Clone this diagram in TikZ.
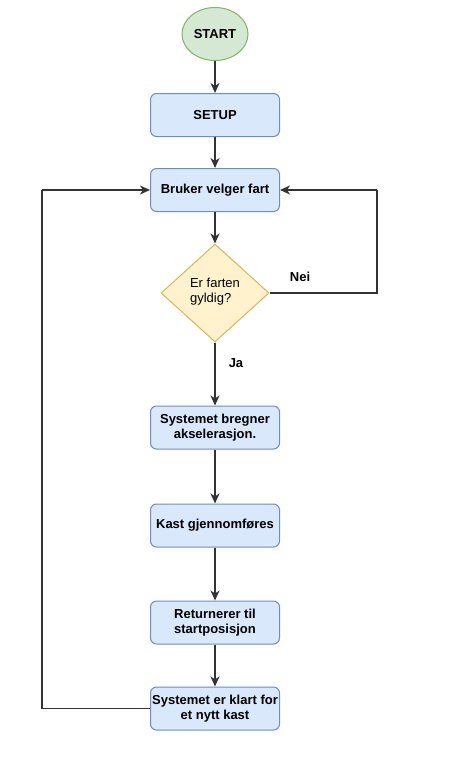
\documentclass[tikz,border=0pt]{standalone}
\usepackage{fontspec}
\setmainfont{Liberation Sans}
\usetikzlibrary{shapes.geometric,arrows.meta}
\definecolor{bfill}{HTML}{DAE8FC}
\definecolor{bdraw}{HTML}{6C8EBF}
\definecolor{gfill}{HTML}{D5E8D4}
\definecolor{gdraw}{HTML}{82B366}
\definecolor{yfill}{HTML}{FFF2CC}
\definecolor{ydraw}{HTML}{D6B656}
\tikzset{
  procbox/.style={draw=bdraw, fill=bfill, rounded corners=6pt, minimum width=129pt, minimum height=43pt, align=center, font=\fontsize{13}{15}\selectfont\bfseries, inner sep=1pt, line width=1pt},
  startnode/.style={ellipse, draw=gdraw, fill=gfill, minimum width=66pt, minimum height=53pt, font=\fontsize{13}{15}\selectfont\bfseries, line width=1pt, inner sep=0pt},
  decision/.style={diamond, draw=ydraw, fill=yfill, minimum width=108pt, minimum height=98pt, aspect=1.1, align=left, font=\fontsize{13}{15}\selectfont, line width=1pt, inner sep=0pt},
  conn/.style={line width=1.1pt, draw=black!80, -{Stealth[length=10pt,width=9pt,inset=3pt]}},
  plain/.style={line width=1.1pt, draw=black!80},
  lbl/.style={font=\fontsize{13}{15}\selectfont\bfseries, inner sep=0pt}
}
\begin{document}
\begin{tikzpicture}[x=1pt,y=-1pt]
\useasboundingbox (0,0) rectangle (460,780);
\node[startnode] (start) at (215,34) {START};
\node[procbox] (setup) at (215,115) {SETUP};
\node[procbox] (bruker) at (215,190) {Bruker velger fart};
\node[decision] (dec) at (215,293) {};
\node[font=\fontsize{13}{15}\selectfont, align=left, inner sep=0pt] (dectext) at (215,292) {Er farten\\gyldig?};
\node[procbox] (sysb) at (215,427.5) {Systemet bregner\\akselerasjon.};
\node[procbox] (kast) at (215,525.5) {Kast gjennomføres};
\node[procbox] (ret) at (215,622.5) {Returnerer til\\startposisjon};
\node[procbox] (klar) at (215,708.5) {Systemet er klart for\\et nytt kast};
\coordinate (neiA) at (377,293);
\coordinate (neiB) at (377,190);
\coordinate (loopA) at (42,708.5);
\coordinate (loopB) at (42,190);
\draw[conn] (start) -- (setup);
\draw[conn] (setup) -- (bruker);
\draw[conn] (bruker) -- (dec);
\draw[conn] (dec) -- (sysb);
\draw[conn] (sysb) -- (kast);
\draw[conn] (kast) -- (ret);
\draw[conn] (ret) -- (klar);
\draw[plain] (dec.east) -- (neiA) -- (neiB);
\draw[conn] (neiB) -- (bruker.east);
\draw[plain] (klar.west) -- (loopA) -- (loopB);
\draw[conn] (loopB) -- (bruker.west);
\node[lbl] (nei) at (300,277) {Nei};
\node[lbl] (ja) at (236,363) {Ja};
\end{tikzpicture}
\end{document}
